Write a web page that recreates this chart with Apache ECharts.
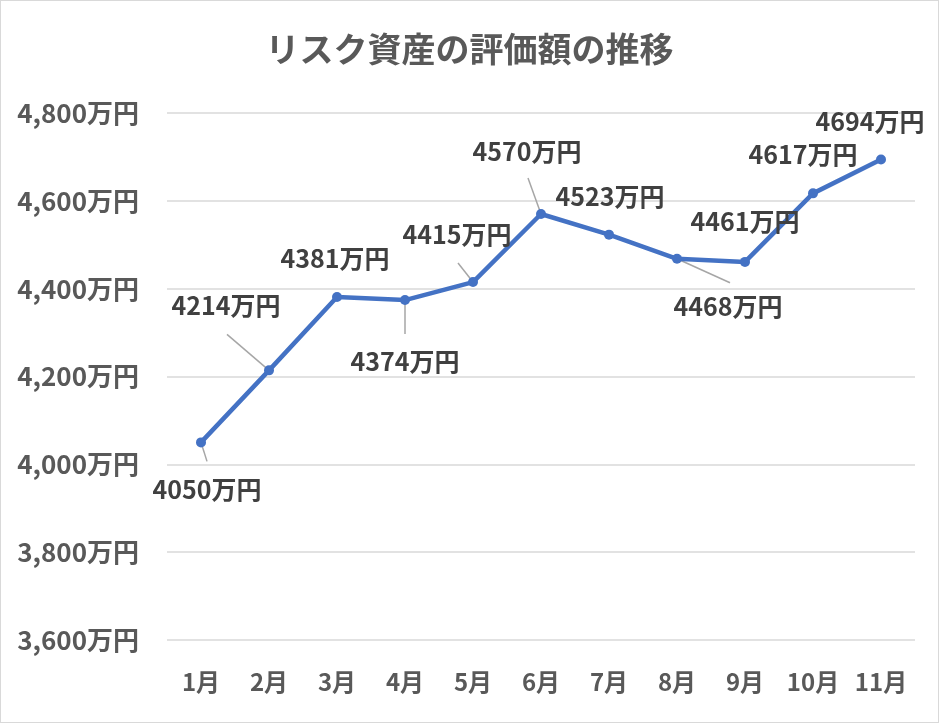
<!DOCTYPE html>
<html><head><meta charset="utf-8">
<script src="https://cdn.jsdelivr.net/npm/echarts@6/dist/echarts.min.js"></script>
<style>
html,body{margin:0;padding:0;background:#fff;}
#c{width:939px;height:723px;box-sizing:border-box;border:1px solid #d9d9d9;}
</style></head>
<body><div id="c"></div>
<script>
const titleText = 'リスク資産の評価額の推移';
const categories = ['1月','2月','3月','4月','5月','6月','7月','8月','9月','10月','11月'];
const values = [4050, 4214, 4381, 4374, 4415, 4570, 4523, 4468, 4461, 4617, 4694];
const yMin = 3600, yMax = 4800, yStep = 200;
const unit = '万円';

// label offsets (px, label centre relative to point) and leader-line end offsets
const labelOffsets = [[6,47],[-43,-65],[-2,-39],[0,61],[-16,-48],[-14,-63],[1,-38],[51,48],[0,-40],[-10,-39],[-11,-38]];
const leaderEnds = [[6,19],[-42,-36],null,[0,34],[-15,-19],[-13,-36],null,[53,24],null,null,null];

const FONT = '"Noto Sans CJK JP", "Noto Sans", sans-serif';
const chart = echarts.init(document.getElementById('c'));
chart.setOption({
  backgroundColor: '#fff',
  animation: false,
  title: {
    text: titleText, left: 'center', top: 26,
    textStyle: {fontFamily: FONT, fontSize: 34, fontWeight: 'bold', color: '#595959'}
  },
  grid: {left: 166, right: 23, top: 112, bottom: 82},
  xAxis: {
    type: 'category', data: categories, boundaryGap: true,
    axisLine: {show: false}, axisTick: {show: false},
    axisLabel: {interval: 0, fontFamily: FONT, fontSize: 24, fontWeight: 'bold', color: '#595959', margin: 30}
  },
  yAxis: {
    type: 'value', min: yMin, max: yMax, interval: yStep,
    axisLine: {show: false}, axisTick: {show: false},
    splitLine: {lineStyle: {color: '#d9d9d9', width: 1.5}},
    axisLabel: {
      fontFamily: FONT, fontSize: 26, fontWeight: 'bold', color: '#595959', margin: 28,
      formatter: v => v.toLocaleString('en-US') + unit
    }
  },
  series: [
    {
      type: 'custom', z: 1, silent: true,
      data: values.map((v, i) => [i, v]),
      renderItem: (params, api) => {
        const i = params.dataIndex;
        const e = leaderEnds[i];
        if (!e) return null;
        const p = api.coord([api.value(0), api.value(1)]);
        return {type: 'line', shape: {x1: p[0], y1: p[1], x2: p[0] + e[0], y2: p[1] + e[1]},
                style: {stroke: '#a6a6a6', lineWidth: 1.5}};
      }
    },
    {
      type: 'line', z: 3, data: values,
      symbol: 'circle', symbolSize: 10,
      lineStyle: {color: '#4472c4', width: 4.5},
      itemStyle: {color: '#4472c4'},
      label: {
        show: true, position: 'inside',
        fontFamily: FONT, fontSize: 25, fontWeight: 'bold', color: '#404040',
        formatter: p => p.value + unit
      },
      labelLayout: p => ({dx: labelOffsets[p.dataIndex][0], dy: labelOffsets[p.dataIndex][1]})
    }
  ]
});
</script></body></html>
